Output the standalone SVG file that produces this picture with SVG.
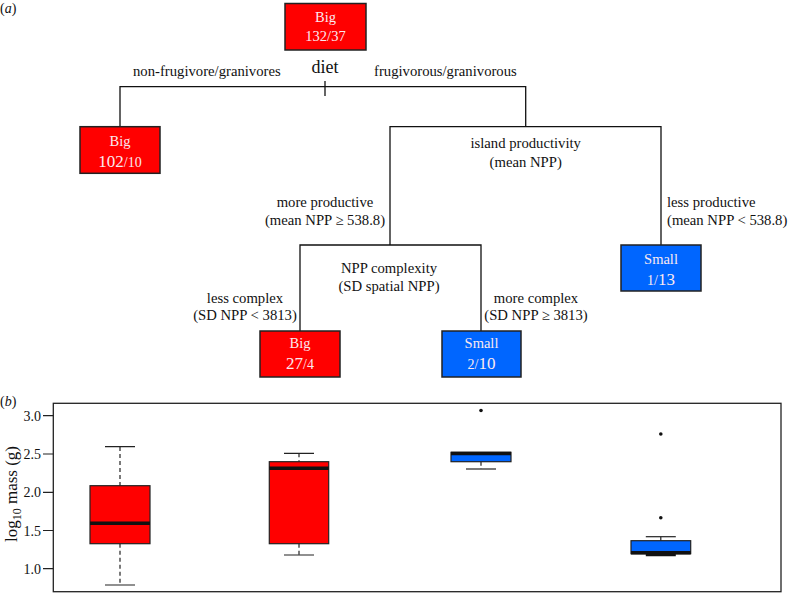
<svg xmlns="http://www.w3.org/2000/svg" width="788" height="594" viewBox="0 0 788 594">
<style>
text{font-family:"Liberation Serif","Times New Roman",serif;fill:#111}
.lbl{font-family:"Liberation Serif","Times New Roman",serif;font-size:14.7px}
.c{text-anchor:middle}
.big{fill:#ff0000;stroke:#222;stroke-width:1.5}
.small{fill:#0066ff;stroke:#222;stroke-width:1.5}
.nt{fill:#fbe9ef;text-anchor:middle}
.nt1{font-size:14.5px}
.nl{font-size:17px}
.ns{font-size:14px}
.ln{stroke:#111;stroke-width:1.3;fill:none}
.bx{stroke:#222;stroke-width:1.2}
.med{stroke:#111;stroke-width:3.5}
.wh{stroke:#222;stroke-width:1.2;stroke-dasharray:4 3}
.cap{stroke:#222;stroke-width:1.2}
.tick{font-size:14px;text-anchor:end}
</style>
<text x="0" y="13" style="font-size:14px">(<tspan font-style="italic">a</tspan>)</text>
<g id="connectors">
<path class="ln" d="M120 126.7V86.7H525.7V126.7"/>
<path class="ln" d="M325 81V96"/>
<path class="ln" d="M390 245V126.7H661V245"/>
<path class="ln" d="M300 331V245H481V331"/>
<text class="lbl" x="133" y="76">non-frugivore/granivores</text>
<text x="325" y="73" class="c" style="font-size:18px">diet</text>
<text class="lbl" x="374" y="76">frugivorous/granivorous</text>
<text class="lbl c" x="525.7" y="148">island productivity</text>
<text class="lbl c" x="525.7" y="167">(mean NPP)</text>
<text class="lbl c" x="325" y="207">more productive</text>
<text class="lbl c" x="325" y="225">(mean NPP ≥ 538.8)</text>
<text class="lbl" x="667" y="207">less productive</text>
<text class="lbl" x="667" y="225">(mean NPP &lt; 538.8)</text>
<text class="lbl c" x="389" y="273">NPP complexity</text>
<text class="lbl c" x="389" y="291">(SD spatial NPP)</text>
<text class="lbl c" x="245" y="303">less complex</text>
<text class="lbl c" x="245" y="320">(SD NPP &lt; 3813)</text>
<text class="lbl c" x="536" y="303">more complex</text>
<text class="lbl c" x="536" y="320">(SD NPP ≥ 3813)</text>
</g>
<g id="root">
<rect class="big" x="285" y="3.5" width="81" height="46.5"/>
<text class="nt nt1" x="325.5" y="22">Big</text>
<text class="nt nt1" x="325.5" y="41">132/37</text>
</g>
<g id="leaf-nonfrug">
<rect class="big" x="80" y="126.7" width="80" height="46.6"/>
<text class="nt nt1" x="120" y="146">Big</text>
<text class="nt" x="120" y="166.5"><tspan class="nl">102</tspan><tspan class="ns">/10</tspan></text>
</g>
<g id="leaf-less-productive">
<rect class="small" x="621" y="245" width="80" height="46"/>
<text class="nt nt1" x="661" y="263.5">Small</text>
<text class="nt" x="661" y="285"><tspan class="ns">1/</tspan><tspan class="nl">13</tspan></text>
</g>
<g id="leaf-less-complex">
<rect class="big" x="260" y="331" width="80" height="46"/>
<text class="nt nt1" x="300" y="347.5">Big</text>
<text class="nt" x="300" y="369"><tspan class="nl">27</tspan><tspan class="ns">/4</tspan></text>
</g>
<g id="leaf-more-complex">
<rect class="small" x="442" y="331" width="79" height="46"/>
<text class="nt nt1" x="481.5" y="347.5">Small</text>
<text class="nt" x="481.5" y="369"><tspan class="ns">2/</tspan><tspan class="nl">10</tspan></text>
</g>
<g id="panel-b">
<text x="0" y="406" style="font-size:14px">(<tspan font-style="italic">b</tspan>)</text>
<rect x="53.3" y="403.3" width="727.7" height="188.4" fill="none" stroke="#222" stroke-width="1.3"/>
<g stroke="#222" stroke-width="1.2">
<path d="M43 415.7H53.3M43 454H53.3M43 492.3H53.3M43 530.5H53.3M43 568.7H53.3"/>
</g>
<text class="tick" x="41" y="420.5">3.0</text>
<text class="tick" x="41" y="459">2.5</text>
<text class="tick" x="41" y="497">2.0</text>
<text class="tick" x="41" y="535.5">1.5</text>
<text class="tick" x="41" y="573.5">1.0</text>
<text transform="translate(17 494) rotate(-90)" text-anchor="middle" style="font-size:17px">log<tspan dy="4" style="font-size:12px">10</tspan><tspan dy="-4"> mass (g)</tspan></text>
<g id="box1">
<path class="wh" d="M120 447V485.7M120 543.7V585"/>
<path class="cap" d="M105 446.7H135M105 585H135"/>
<rect class="big bx" x="90" y="485.7" width="60" height="58"/>
<path class="med" d="M90 523.3H150"/>
</g>
<g id="box2">
<path class="wh" d="M299 453.3V461.7M299 543.7V555"/>
<path class="cap" d="M284 453.3H314M284 555H314"/>
<rect class="big bx" x="269.3" y="461.7" width="59.4" height="82"/>
<path class="med" d="M269.3 468.3H328.7"/>
</g>
<g id="box3">
<path class="wh" d="M481 461.7V469"/>
<path class="cap" d="M466 469H496"/>
<rect class="small bx" x="451" y="452.3" width="60" height="9.4"/>
<path class="med" d="M451 453.5H511"/>
<circle cx="481" cy="410.5" r="1.8" fill="#111"/>
</g>
<g id="box4">
<path class="wh" d="M660.8 536.7V540.7"/>
<path class="cap" d="M645.8 536.7H675.8"/>
<path class="med" d="M645.8 554.5H675.8"/>
<rect class="small bx" x="631" y="540.7" width="59.7" height="13"/>
<path class="med" d="M631 552.8H690.7"/>
<circle cx="660.8" cy="434" r="1.8" fill="#111"/>
<circle cx="660.8" cy="517.7" r="1.8" fill="#111"/>
</g>
</g>
</svg>
